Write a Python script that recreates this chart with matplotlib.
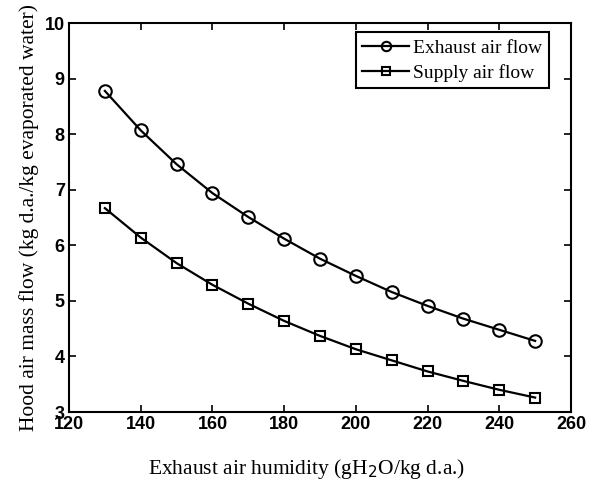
import matplotlib
matplotlib.use("Agg")
import matplotlib.pyplot as plt

# Exhaust air humidity (g H2O / kg dry air)
humidity = [130, 140, 150, 160, 170, 180, 190, 200, 210, 220, 230, 240, 250]
# Hood air mass flow (kg d.a. / kg evaporated water)
exhaust_flow = [8.78, 8.07, 7.46, 6.94, 6.51, 6.12, 5.76, 5.45, 5.16, 4.91, 4.68, 4.48, 4.28]
supply_flow = [6.67, 6.14, 5.68, 5.29, 4.95, 4.64, 4.37, 4.13, 3.93, 3.73, 3.56, 3.40, 3.26]

x_ticks = [120, 140, 160, 180, 200, 220, 240, 260]
y_ticks = [3, 4, 5, 6, 7, 8, 9, 10]

fig = plt.figure(figsize=(5.92, 4.82), dpi=100)
ax = fig.add_axes([0.1166, 0.1452, 0.8479, 0.8068])

ax.plot(humidity, exhaust_flow, color="black", lw=1.6, marker="o", ms=9,
        mfc="none", mec="black", mew=1.5, label="Exhaust air flow")
ax.plot(humidity, supply_flow, color="black", lw=1.6, marker="s", ms=7,
        mfc="none", mec="black", mew=1.5, label="Supply air flow")

ax.set_xlim(120, 260)
ax.set_ylim(3, 10)
ax.set_xticks(x_ticks)
ax.set_yticks(y_ticks)
ax.tick_params(direction="in", top=True, right=True, length=5, width=1.2,
               labelsize=13, pad=3)
for lab in ax.get_xticklabels() + ax.get_yticklabels():
    lab.set_fontfamily("Liberation Sans")
    lab.set_fontweight("bold")
for sp in ax.spines.values():
    sp.set_linewidth(1.5)

serif = {"family": "Liberation Serif", "size": 15.5}
ax.set_xlabel("Exhaust air humidity (gH$_2$O/kg d.a.)", fontdict=serif)
ax.xaxis.set_label_coords(0.473, -0.115)
ax.set_ylabel("Hood air mass flow (kg d.a./kg evaporated water)", fontdict=serif, labelpad=4)

leg = ax.legend(loc="upper right", prop={"family": "Liberation Serif", "size": 14},
                frameon=True, fancybox=False, edgecolor="black", framealpha=1,
                handlelength=2.4, borderaxespad=0.0, bbox_to_anchor=(0.956, 0.976),
                labelspacing=0.35, markerscale=0.75,
                borderpad=0.35, handletextpad=0.2)
leg.get_frame().set_linewidth(1.5)

fig.savefig("out.png", dpi=100)
